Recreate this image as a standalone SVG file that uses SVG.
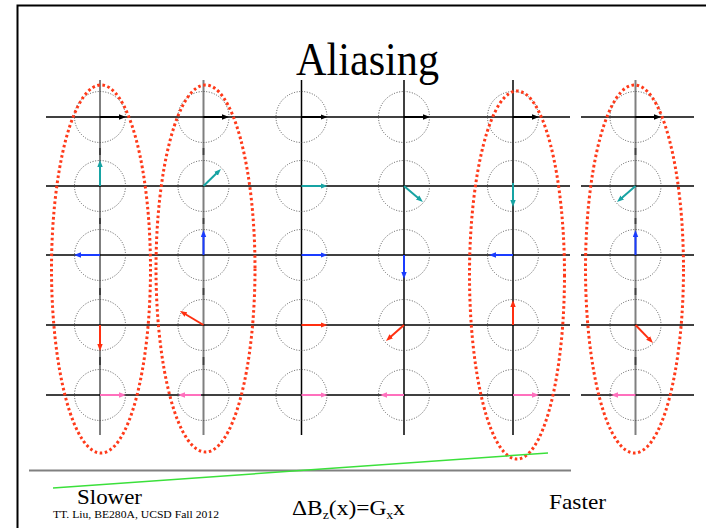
<svg xmlns="http://www.w3.org/2000/svg" width="706" height="528" viewBox="0 0 706 528">
<style>
.t{font-family:"Liberation Serif","Times New Roman",serif;fill:#000}
.c{fill:none;stroke:#444;stroke-width:0.9;stroke-dasharray:1 1.6}
.h{stroke:#000;stroke-width:1.5}
.vk{stroke:#000;stroke-width:1.5}
.vg{stroke:#000;stroke-opacity:0.5;stroke-width:2}
.e{fill:none;stroke:#ff3a1a;stroke-width:3;stroke-dasharray:2.6 2.6}
.a{stroke-width:2;fill:none}
.k{stroke:#000;marker-end:url(#mk)}
.tl{stroke:#17a3a3;marker-end:url(#mt)}
.b{stroke:#1a3cff;marker-end:url(#mb)}
.r{stroke:#ff2f10;marker-end:url(#mr)}
.p{stroke:#ff70bd;marker-end:url(#mp)}
</style>
<defs>
<marker id="mk" markerUnits="userSpaceOnUse" markerWidth="8" markerHeight="6" viewBox="0 -3 8 6" refX="3" refY="0" orient="auto"><path d="M0,-2.7 L7,0 L0,2.7 z" fill="#000"/></marker>
<marker id="mt" markerUnits="userSpaceOnUse" markerWidth="8" markerHeight="6" viewBox="0 -3 8 6" refX="3" refY="0" orient="auto"><path d="M0,-2.7 L7,0 L0,2.7 z" fill="#17a3a3"/></marker>
<marker id="mb" markerUnits="userSpaceOnUse" markerWidth="8" markerHeight="6" viewBox="0 -3 8 6" refX="3" refY="0" orient="auto"><path d="M0,-2.7 L7,0 L0,2.7 z" fill="#1a3cff"/></marker>
<marker id="mr" markerUnits="userSpaceOnUse" markerWidth="8" markerHeight="6" viewBox="0 -3 8 6" refX="3" refY="0" orient="auto"><path d="M0,-2.7 L7,0 L0,2.7 z" fill="#ff2f10"/></marker>
<marker id="mp" markerUnits="userSpaceOnUse" markerWidth="8" markerHeight="6" viewBox="0 -3 8 6" refX="3" refY="0" orient="auto"><path d="M0,-2.7 L7,0 L0,2.7 z" fill="#ff70bd"/></marker>
</defs>
<rect width="706" height="528" fill="#fff"/>
<path d="M17.5,528 V5.5 H706" fill="none" stroke="#000" stroke-width="2"/>
<text class="t" x="367.5" y="75" font-size="46" text-anchor="middle" textLength="143" lengthAdjust="spacingAndGlyphs">Aliasing</text>

<g id="grid">
<line class="h" x1="46" y1="117" x2="570" y2="117"/><line class="h" x1="581" y1="117" x2="694" y2="117"/>
<line class="h" x1="46" y1="186" x2="570" y2="186"/><line class="h" x1="581" y1="186" x2="694" y2="186"/>
<line class="h" x1="46" y1="255" x2="570" y2="255"/><line class="h" x1="581" y1="255" x2="694" y2="255"/>
<line class="h" x1="46" y1="325" x2="570" y2="325"/><line class="h" x1="581" y1="325" x2="694" y2="325"/>
<line class="h" x1="46" y1="395" x2="570" y2="395"/><line class="h" x1="581" y1="395" x2="694" y2="395"/>
<g class="vg">
<line x1="100" y1="80" x2="100" y2="155"/><line x1="100" y1="148" x2="100" y2="224"/><line x1="100" y1="218" x2="100" y2="295"/><line x1="100" y1="288" x2="100" y2="365"/><line x1="100" y1="357" x2="100" y2="435"/>
<line x1="203.5" y1="80" x2="203.5" y2="155"/><line x1="203.5" y1="148" x2="203.5" y2="224"/><line x1="203.5" y1="218" x2="203.5" y2="295"/><line x1="203.5" y1="288" x2="203.5" y2="365"/><line x1="203.5" y1="357" x2="203.5" y2="435"/>
<line x1="635.5" y1="80" x2="635.5" y2="155"/><line x1="635.5" y1="148" x2="635.5" y2="224"/><line x1="635.5" y1="218" x2="635.5" y2="295"/><line x1="635.5" y1="288" x2="635.5" y2="365"/><line x1="635.5" y1="357" x2="635.5" y2="435"/>
</g>
<line class="vk" x1="301.5" y1="80" x2="301.5" y2="435"/>
<line class="vk" x1="404" y1="80" x2="404" y2="435"/>
<line class="vk" x1="513" y1="80" x2="513" y2="435"/>
</g>

<g id="col1">
<circle class="c" cx="100" cy="117" r="25.5"/><circle class="c" cx="100" cy="186" r="25.5"/><circle class="c" cx="100" cy="255" r="25.5"/><circle class="c" cx="100" cy="325" r="25.5"/><circle class="c" cx="100" cy="395" r="25.5"/>
<line class="a k" x1="100" y1="117" x2="122" y2="117"/>
<line class="a tl" x1="100" y1="186" x2="100" y2="164"/>
<line class="a b" x1="100" y1="255" x2="78" y2="255"/>
<line class="a r" x1="100" y1="325" x2="100" y2="347"/>
<line class="a p" x1="100" y1="395" x2="122" y2="395"/>
</g>
<g id="col2">
<circle class="c" cx="203.5" cy="117" r="25.5"/><circle class="c" cx="203.5" cy="186" r="25.5"/><circle class="c" cx="203.5" cy="255" r="25.5"/><circle class="c" cx="203.5" cy="325" r="25.5"/><circle class="c" cx="203.5" cy="395" r="25.5"/>
<line class="a k" x1="203.5" y1="117" x2="225" y2="117"/>
<line class="a tl" x1="203.5" y1="186" x2="218.1" y2="171.8"/>
<line class="a b" x1="203.5" y1="255" x2="203.5" y2="234"/>
<line class="a r" x1="203.5" y1="325" x2="183.4" y2="313"/>
<line class="a p" x1="201" y1="395" x2="182" y2="395"/>
</g>
<g id="col3">
<circle class="c" cx="301.5" cy="117" r="25.5"/><circle class="c" cx="301.5" cy="186" r="25.5"/><circle class="c" cx="301.5" cy="255" r="25.5"/><circle class="c" cx="301.5" cy="325" r="25.5"/><circle class="c" cx="301.5" cy="395" r="25.5"/>
<line class="a k" x1="301.5" y1="117" x2="323.5" y2="117"/>
<line class="a tl" x1="301.5" y1="186" x2="323.5" y2="186"/>
<line class="a b" x1="301.5" y1="255" x2="323.5" y2="255"/>
<line class="a r" x1="301.5" y1="325" x2="323.5" y2="325"/>
<line class="a p" x1="301.5" y1="395" x2="323.5" y2="395"/>
</g>
<g id="col4">
<circle class="c" cx="404" cy="117" r="25.5"/><circle class="c" cx="404" cy="186" r="25.5"/><circle class="c" cx="404" cy="255" r="25.5"/><circle class="c" cx="404" cy="325" r="25.5"/><circle class="c" cx="404" cy="395" r="25.5"/>
<line class="a k" x1="404" y1="117" x2="426" y2="117"/>
<line class="a tl" x1="404" y1="186" x2="419.9" y2="199.4"/>
<line class="a b" x1="404" y1="255" x2="404" y2="275"/>
<line class="a r" x1="404" y1="325" x2="389" y2="338.3"/>
<line class="a p" x1="404" y1="395" x2="384" y2="395"/>
</g>
<g id="col5">
<circle class="c" cx="513" cy="117" r="25.5"/><circle class="c" cx="513" cy="186" r="25.5"/><circle class="c" cx="513" cy="255" r="25.5"/><circle class="c" cx="513" cy="325" r="25.5"/><circle class="c" cx="513" cy="395" r="25.5"/>
<line class="a k" x1="513" y1="117" x2="535" y2="117"/>
<line class="a tl" x1="513" y1="183" x2="513" y2="203"/>
<line class="a b" x1="513" y1="255" x2="493" y2="255"/>
<line class="a r" x1="513" y1="325" x2="513" y2="304"/>
<line class="a p" x1="513" y1="395" x2="535" y2="395"/>
</g>
<g id="col6">
<circle class="c" cx="635.5" cy="117" r="25.5"/><circle class="c" cx="635.5" cy="186" r="25.5"/><circle class="c" cx="635.5" cy="255" r="25.5"/><circle class="c" cx="635.5" cy="325" r="25.5"/><circle class="c" cx="635.5" cy="395" r="25.5"/>
<line class="a k" x1="635.5" y1="117" x2="657" y2="117"/>
<line class="a tl" x1="635.5" y1="186" x2="620" y2="199.4"/>
<line class="a b" x1="635.5" y1="255" x2="635.5" y2="234"/>
<line class="a r" x1="635.5" y1="325" x2="650.2" y2="340.1"/>
<line class="a p" x1="635.5" y1="395" x2="615" y2="395"/>
</g>

<g id="ellipses">
<ellipse class="e" cx="101" cy="269" rx="49.5" ry="184"/>
<ellipse class="e" cx="205.5" cy="268.5" rx="49.5" ry="183.5"/>
<ellipse class="e" cx="517" cy="275" rx="47.5" ry="184"/>
<ellipse class="e" cx="634.5" cy="269" rx="49" ry="184"/>
</g>

<g id="bottom">
<line x1="29" y1="470.5" x2="571" y2="470.5" stroke="#808080" stroke-width="2"/>
<line x1="53" y1="488" x2="548" y2="453" stroke="#3be03b" stroke-width="1.5"/>
<text class="t" x="77" y="504" font-size="22" textLength="65" lengthAdjust="spacingAndGlyphs">Slower</text>
<text class="t" x="53" y="518" font-size="11" textLength="166" lengthAdjust="spacingAndGlyphs">TT. Liu, BE280A, UCSD Fall 2012</text>
<text class="t" x="549" y="509" font-size="22" textLength="57" lengthAdjust="spacingAndGlyphs">Faster</text>
<text class="t" x="292" y="515" font-size="22" textLength="113" lengthAdjust="spacingAndGlyphs">ΔB<tspan font-size="13" dy="4">z</tspan><tspan dy="-4">(x)=G</tspan><tspan font-size="13" dy="4">x</tspan><tspan dy="-4">x</tspan></text>
</g>
</svg>
